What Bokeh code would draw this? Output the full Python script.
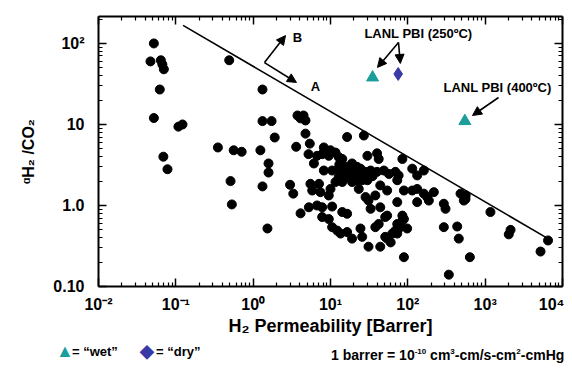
from bokeh.plotting import figure
from bokeh.layouts import column
from bokeh.models import LogAxis, Label, Arrow, NormalHead, FixedTicker, Range1d, Div
from bokeh.embed import file_html
from bokeh.resources import INLINE

# ---- data ----
lit_perm = [0.052, 0.047, 0.064, 0.067, 0.070, 0.062, 0.052, 0.108, 0.122, 0.069, 0.078,
            0.49, 1.32, 1.32, 1.73, 1.9, 0.35, 0.56, 0.71, 1.24, 1.58, 1.58, 0.51, 0.53, 1.32, 1.53,
            3.74, 4.48, 4.09, 4.75, 3.6, 3.0, 3.3, 4.1,
            16.4, 27, 4.75, 5.4, 8.2, 10, 11.6, 5.2, 6.7, 7.8, 9.5, 12.8, 14.2, 30, 40, 42, 85,
            6.1, 19, 22, 8.2, 10.5, 12.8, 15.6, 17.3, 21, 24.4, 33, 40, 49, 57, 69, 76, 114, 132, 161,
            5.5, 7.1, 5.8, 7.4, 10, 11.6, 12.8, 14.2, 16.4, 19, 22, 25.7, 30, 23.2, 44, 54, 73, 89,
            114, 132, 161, 178, 217, 9.5, 28.4, 31, 73, 132, 187, 292, 307, 480, 557, 530, 560,
            5.25, 6.7, 7.8, 10.5, 7.8, 9.5, 14.2, 16.4, 33, 44, 54, 85, 89, 76,
            10.5, 12.2, 13.5, 16.4, 19, 24.4, 25.7, 38, 42, 51, 63, 69, 80, 98,
            31, 44, 60, 89, 292, 435, 456, 634, 339,
            1170, 2130, 2020, 5200, 6500,
            38, 51, 85, 73, 54, 73,
            15, 18, 20, 26, 28, 35, 13, 24]
lit_sel = [100, 60, 62, 55, 48, 27, 12, 9.4, 10, 4.0, 2.8,
           62, 27, 11, 11, 6.9, 5.2, 4.8, 4.6, 4.8, 3.3, 2.55, 2.0, 1.03, 1.72, 0.52,
           12.9, 12.9, 11.9, 11.2, 5.3, 1.8, 1.4, 0.8,
           7.0, 7.3, 7.7, 5.8, 5.2, 4.8, 4.5, 4.3, 4.1, 4.3, 4.1, 3.95, 3.75, 4.1, 4.4, 3.75, 3.75,
           3.3, 3.3, 3.0, 2.7, 2.7, 2.85, 3.0, 2.6, 2.6, 2.85, 2.7, 2.6, 2.7, 2.45, 2.6, 2.35, 2.85, 2.35, 2.7,
           1.85, 1.85, 1.53, 1.46, 1.6, 1.95, 2.25, 1.95, 2.25, 1.95, 2.05, 2.05, 2.05, 1.6, 1.77, 1.53, 2.05, 1.53,
           1.53, 1.6, 1.4, 1.27, 1.46, 1.33, 1.27, 1.15, 1.1, 1.1, 1.15, 1.05, 0.91, 1.4, 1.2, 1.15, 1.33,
           0.95, 1.0, 0.95, 0.97, 0.72, 0.68, 0.83, 0.79, 0.91, 0.95, 0.75, 0.75, 0.68, 0.57,
           0.54, 0.49, 0.45, 0.47, 0.39, 0.52, 0.41, 0.54, 0.59, 0.41, 0.45, 0.49, 0.54, 0.52,
           0.31, 0.31, 0.35, 0.23, 0.54, 0.55, 0.39, 0.23, 0.14,
           0.83, 0.50, 0.44, 0.27, 0.37,
           1.33, 0.72, 0.65, 0.59, 0.39, 0.45,
           2.4, 2.2, 2.8, 2.4, 2.6, 2.3, 3.2, 2.2]

wet_perm = [35, 546]
wet_sel = [38, 11]
dry_perm = [75]
dry_sel = [42]

bound_perm = [0.124, 6500]
bound_sel = [167, 0.39]

x_ticks = [0.01, 0.1, 1.0, 10.0, 100.0, 1000.0, 10000.0]
x_labels = ["10⁻²", "10⁻¹", "10⁰", "10¹", "10²", "10³", "10⁴"]
y_ticks = [0.1, 1.0, 10.0, 100.0]
y_labels = ["0.10", "1.0", "10", "10²"]

TEAL = "#1b9e9b"
BLUE = "#3a3aa6"
FONT = "Liberation Sans"

x_minor = [m * 10.0 ** e for e in range(-2, 4) for m in range(2, 10)]
y_minor = [m * 10.0 ** e for e in range(-1, 3) for m in range(2, 10) if m * 10.0 ** e < 215]

p = figure(frame_width=464, frame_height=270, x_axis_type="log", y_axis_type="log",
           x_range=Range1d(0.01, 10000), y_range=Range1d(0.1, 215),
           output_backend="svg", toolbar_location=None,
           min_border_left=98, min_border_right=2, min_border_top=16, min_border_bottom=58)
p.grid.visible = False
p.outline_line_color = None

def style_axis(ax, show_labels):
    ax.axis_line_width = 2
    ax.axis_line_color = "black"
    ax.major_tick_in = 8
    ax.major_tick_out = 0
    ax.minor_tick_in = 4
    ax.minor_tick_out = 0
    ax.major_tick_line_width = 1.5
    ax.minor_tick_line_width = 1.2
    ax.major_tick_line_color = "black"
    ax.minor_tick_line_color = "black"
    ax.major_label_text_font = FONT
    ax.major_label_text_font_style = "bold"
    ax.major_label_text_color = "black"
    if show_labels:
        ax.major_label_text_font_size = "16px"
        ax.axis_label_text_font = FONT
        ax.axis_label_text_font_style = "bold"
        ax.axis_label_text_font_size = "18px"
        ax.axis_label_text_color = "black"
    else:
        ax.major_label_text_font_size = "1px"
        ax.major_label_standoff = 0

xa = p.xaxis[0]
xa.ticker = FixedTicker(ticks=x_ticks, minor_ticks=x_minor)
xa.major_label_overrides = dict(zip(x_ticks, x_labels))
style_axis(xa, True)
xa.major_label_standoff = 9
xa.axis_label = "H₂ Permeability [Barrer]"
xa.axis_label_standoff = 0

ya = p.yaxis[0]
ya.ticker = FixedTicker(ticks=y_ticks, minor_ticks=y_minor)
ya.major_label_overrides = dict(zip(y_ticks, y_labels))
style_axis(ya, True)
ya.major_label_standoff = 14
ya.axis_label = "ᵅH₂ /CO₂"
ya.axis_label_text_font_size = "16px"
ya.axis_label_standoff = 13

top = LogAxis(ticker=FixedTicker(ticks=x_ticks, minor_ticks=x_minor),
              major_label_overrides={t: "" for t in x_ticks})
style_axis(top, False)
p.add_layout(top, "above")
right = LogAxis(ticker=FixedTicker(ticks=y_ticks, minor_ticks=y_minor),
                major_label_overrides={t: "" for t in y_ticks})
style_axis(right, False)
p.add_layout(right, "right")

# upper bound line
p.line(bound_perm, bound_sel, line_color="black", line_width=1.6)

# literature data
p.scatter(lit_perm, lit_sel, size=9, marker="circle", fill_color="black", line_color="black")

# LANL PBI points
p.scatter(wet_perm, wet_sel, size=12, marker="triangle", fill_color=TEAL, line_color=TEAL)
p.scatter(dry_perm, dry_sel, size=13, marker="diamond", fill_color=BLUE, line_color=BLUE)

def arrow(x0, y0, x1, y1):
    p.add_layout(Arrow(x_start=x0, y_start=y0, x_end=x1, y_end=y1, line_width=1.6,
                       line_color="black",
                       end=NormalHead(size=9, fill_color="black", line_color="black")))

arrow(1.40, 58, 2.62, 125)
arrow(1.40, 58, 3.63, 33)
arrow(75.7, 103, 40.5, 50.6)
arrow(75.7, 103, 80, 56.6)
arrow(1489, 21.5, 686, 12.9)

def label(x, y, text, size="13px"):
    p.add_layout(Label(x=x, y=y, text=text,
                       text_font=FONT, text_font_style="bold", text_font_size=size,
                       text_align="center", text_baseline="middle", text_color="black"))

label(3.74, 119, "B")
label(6.4, 29.5, "A")
label(137, 133, "LANL PBI (250ºC)")
label(1445, 28.6, "LANL PBI (400ºC)")

# ---- legend / note strip below the chart ----
legend_html = (
    "<div style=\"position:relative;width:572px;height:20px;"
    "font-family:'Liberation Sans',Arial,sans-serif;font-weight:bold;font-size:13px;"
    "color:black;line-height:16px;\">"
    f"<span style=\"position:absolute;left:51px;top:-6px;color:{TEAL};font-size:18px;\">▲</span>"
    "<span style=\"position:absolute;left:67px;top:-5px;\">= “wet”</span>"
    f"<span style=\"position:absolute;left:135px;top:-6px;color:{BLUE};font-size:18px;\">◆</span>"
    "<span style=\"position:absolute;left:151px;top:-5px;\">= “dry”</span>"
    "<span style=\"position:absolute;left:326px;top:-5px;white-space:nowrap;font-size:14px;\">"
    "1 barrer = 10<sup style=\"font-size:8px;\">-10</sup> cm<sup style=\"font-size:8px;\">3</sup>"
    "-cm/s-cm<sup style=\"font-size:8px;\">2</sup>-cmHg</span>"
    "</div>"
)
leg = Div(text=legend_html, width=572, height=20)

open("out.html", "w").write(file_html(column(p, leg), INLINE))
